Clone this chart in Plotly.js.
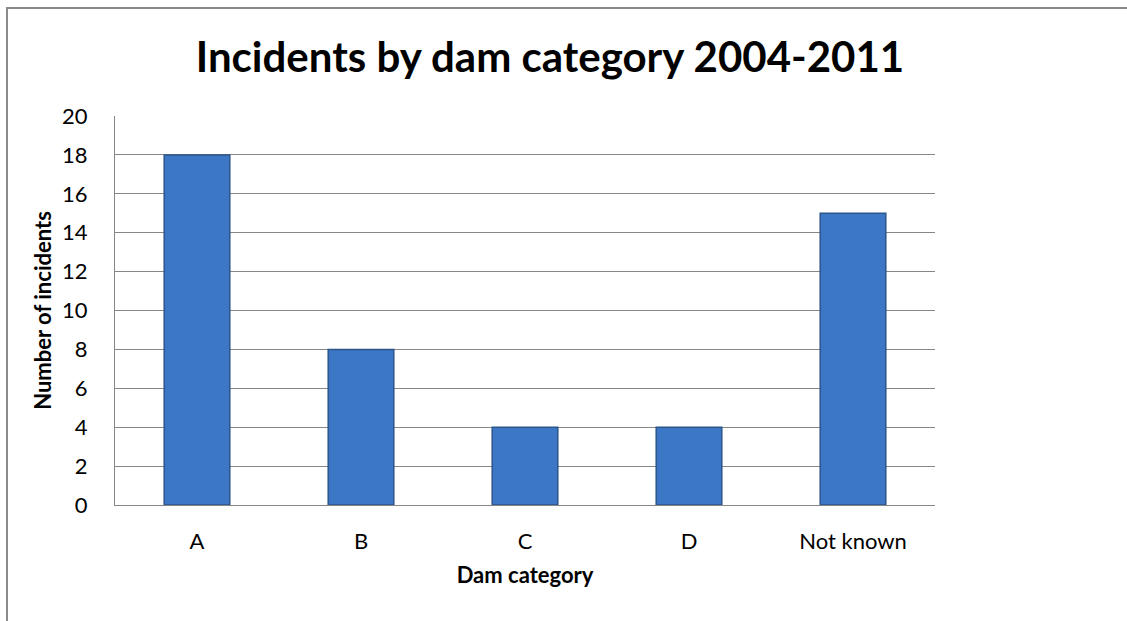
<!DOCTYPE html>
<html>
<head>
<meta charset="utf-8">
<script src="https://cdn.plot.ly/plotly-3.0.1.min.js"></script>
<style>
  html, body { margin: 0; padding: 0; background: #ffffff; }
  #wrap { position: relative; width: 1127px; height: 621px; }
  #chart { width: 1127px; height: 621px; }
  /* chart frame: left and top edges */
  #frame {
    position: absolute; left: 6px; top: 7px; right: 0; bottom: 0;
    border-left: 2px solid #8a8a8a; border-top: 2px solid #8a8a8a;
    pointer-events: none;
  }
</style>
</head>
<body>
<div id="wrap">
  <div id="chart"></div>
  <div id="frame"></div>
</div>
<script>
// Incidents per dam category, 2004-2011
const categories = ["A", "B", "C", "D", "Not known"];
const incidents = [18, 8, 4, 4, 15];
const yTicks = [0, 2, 4, 6, 8, 10, 12, 14, 16, 18, 20];

const FONT = "Lato, 'Open Sans', sans-serif";

const bars = {
  type: "bar",
  x: categories,
  y: incidents,
  marker: {
    color: "#3b77c4",
    line: { color: "#2b568c", width: 1.5 }
  },
  hoverinfo: "x+y"
};

const layout = {
  width: 1127,
  height: 621,
  margin: { l: 115, r: 192, t: 116, b: 116 },
  paper_bgcolor: "#ffffff",
  plot_bgcolor: "#ffffff",
  showlegend: false,
  bargap: 0.6,
  title: {
    text: "<b>Incidents by dam category 2004-2011</b>",
    font: { family: FONT, size: 42, color: "#000000" },
    x: 0.488, xanchor: "center",
    y: 0.908, yanchor: "middle"
  },
  xaxis: {
    type: "category",
    showgrid: false,
    showline: true,
    linecolor: "#868686",
    linewidth: 1,
    ticks: "",
    ticklabelstandoff: 17,
    tickfont: { family: FONT, size: 22, color: "#000000" },
    title: {
      text: "<b>Dam category</b>",
      font: { family: FONT, size: 22, color: "#000000" },
      standoff: 14
    }
  },
  yaxis: {
    range: [0, 20],
    tickvals: yTicks,
    ticktext: yTicks.map(String),
    showgrid: true,
    gridcolor: "#868686",
    gridwidth: 1,
    showline: true,
    linecolor: "#868686",
    linewidth: 1,
    zeroline: false,
    ticks: "",
    ticklabelstandoff: 22,
    tickfont: { family: FONT, size: 22, color: "#000000" },
    title: {
      text: "<b>Number of incidents</b>",
      font: { family: FONT, size: 22, color: "#000000" },
      standoff: 4
    }
  }
};

Plotly.newPlot("chart", [bars], layout, { displayModeBar: false, staticPlot: true });
</script>
</body>
</html>
